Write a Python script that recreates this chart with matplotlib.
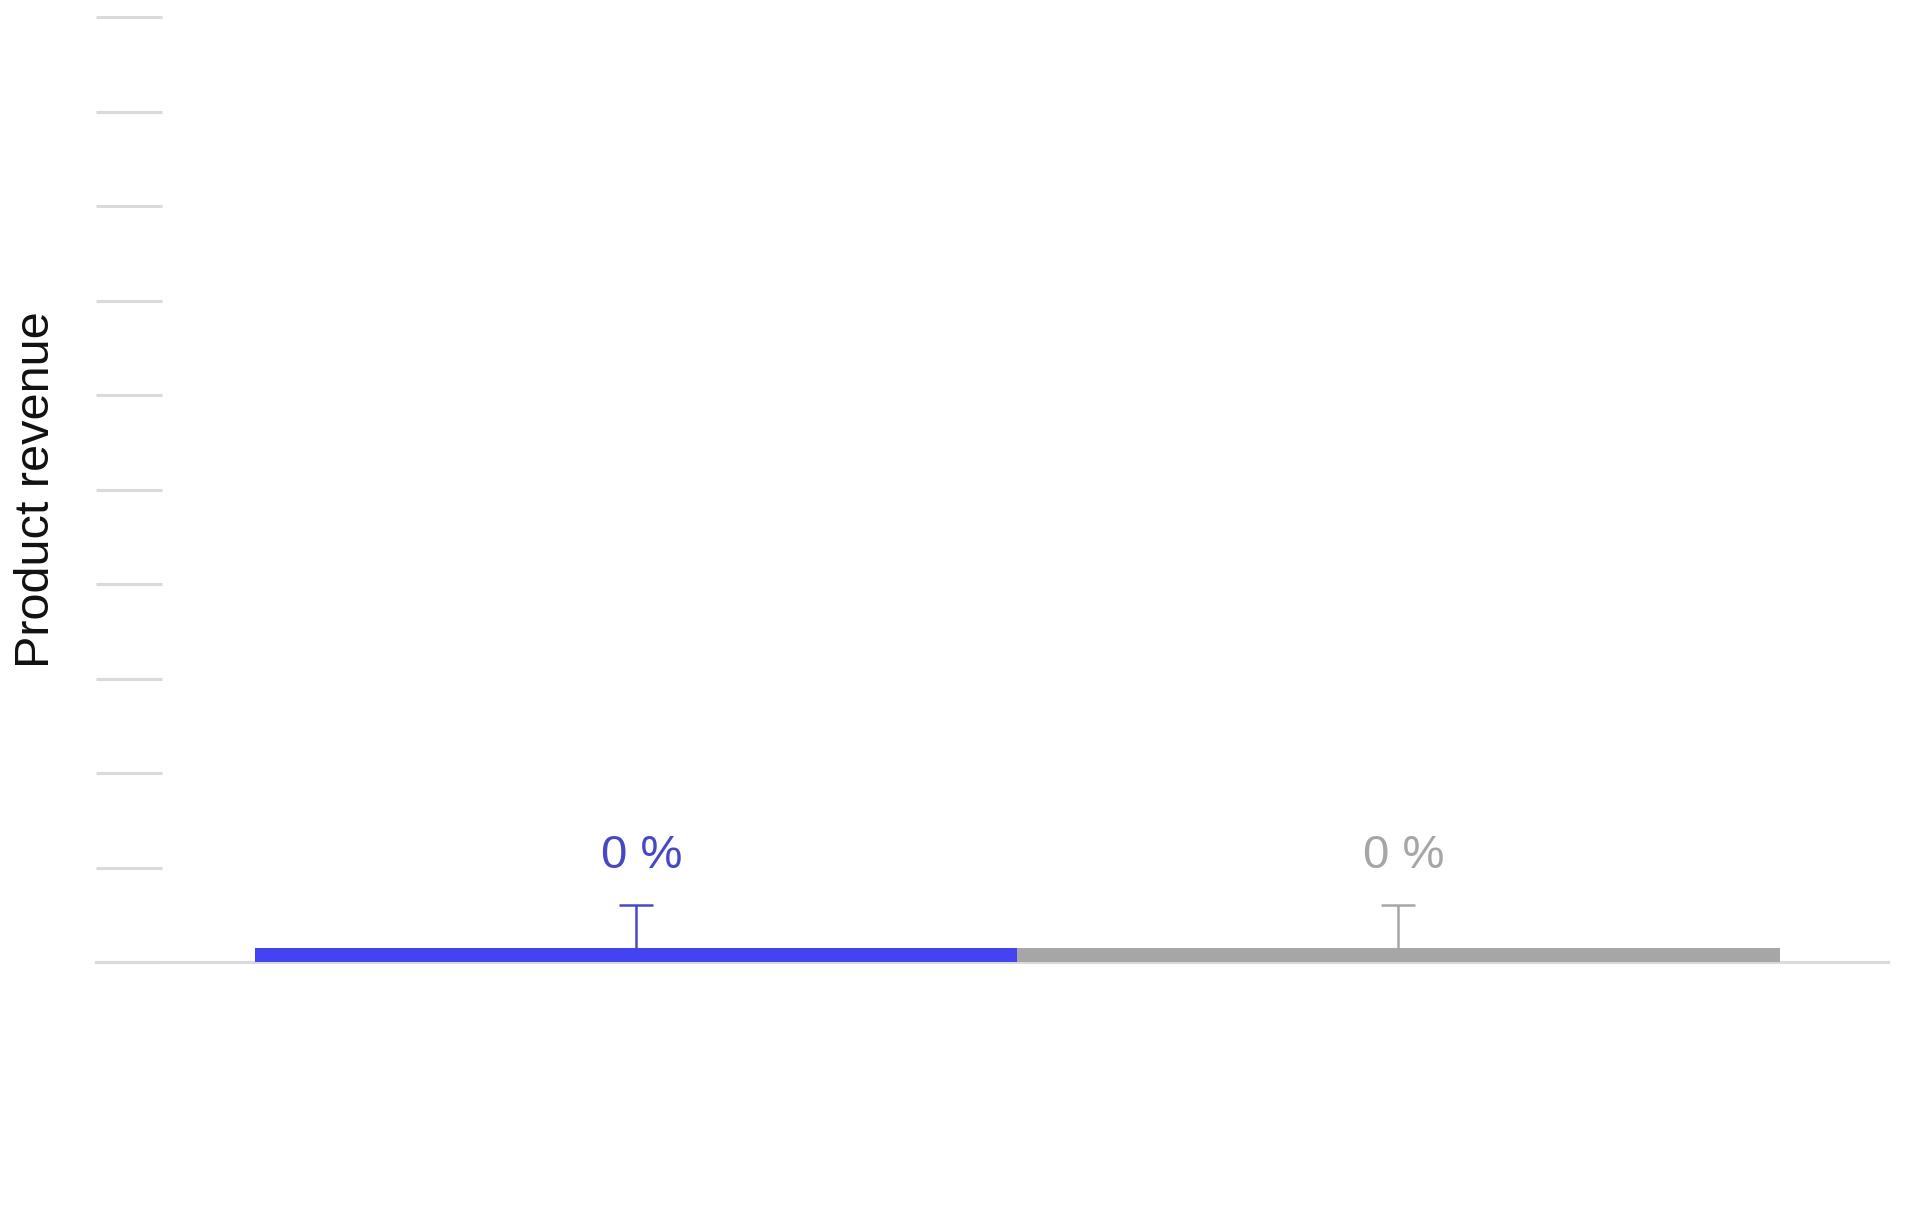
import matplotlib
matplotlib.use("Agg")
import matplotlib.pyplot as plt
from matplotlib.ticker import MultipleLocator

# data
categories = ["Variant A", "Variant B"]
revenue = [0.15, 0.15]
err_upper = [0.45, 0.45]
pct_labels = ["0 %", "0 %"]

bar_colors = ["#4343F2", "#A6A6A6"]
accent_colors = ["#4848C6", "#A6A6A6"]
grid_color = "#DADADA"

plt.rcParams["font.family"] = ["Liberation Sans", "DejaVu Sans"]

fig = plt.figure(figsize=(19.2, 12.14), dpi=100)
ax = fig.add_axes([96 / 1920, 252 / 1214, 1792 / 1920, 945 / 1214])

x = list(range(len(categories)))
ax.bar(x, revenue, width=1.0, color=bar_colors, zorder=3)

for xi, val, up, col, lab in zip(x, revenue, err_upper, accent_colors, pct_labels):
    _, caps, _ = ax.errorbar(xi, val, yerr=[[0], [up]], fmt="none", ecolor=col,
                             elinewidth=1.8, capsize=12, capthick=1.8, zorder=4)
    # only the upper cap is drawn in the original
    caps[0].set_visible(False)
    ax.annotate(lab, xy=(xi, val + up), xytext=(4, 27), textcoords="offset points",
                ha="center", va="baseline", fontsize=34, color=col)

ax.set_xlim(-0.708, 1.642)
ax.set_ylim(0, 10)
ax.yaxis.set_major_locator(MultipleLocator(1))
ax.axhline(0, color=grid_color, linewidth=2.2, zorder=2, clip_on=False)

for side in ("left", "right", "top", "bottom"):
    ax.spines[side].set_visible(False)
ax.tick_params(axis="y", direction="in", length=47.5, width=2.2, color=grid_color,
               labelleft=False)
ax.tick_params(axis="x", bottom=False, labelbottom=False)

fig.text(37 / 1920, 1 - 490 / 1214, "Product revenue", rotation=90,
         ha="center", va="center", fontsize=35, color="#111111")

fig.savefig("out.png", dpi=100)
